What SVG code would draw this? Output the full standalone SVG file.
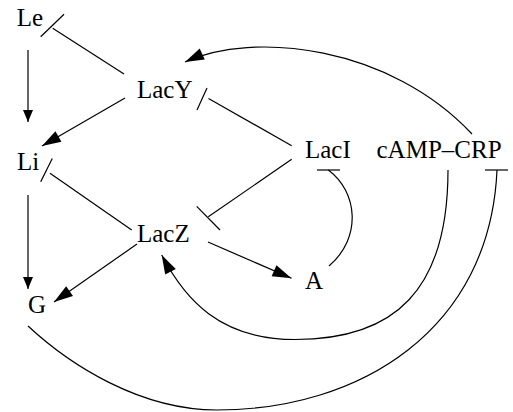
<svg xmlns="http://www.w3.org/2000/svg" width="513" height="412" viewBox="0 0 513 412">
<style>
  .lbl { font-family: "Liberation Serif", "Times New Roman", serif; font-size: 25px; fill: #000; }
  .e { fill: none; stroke: #000; stroke-width: 1.2; }
  .arr { marker-end: url(#ah); }
  .arrs { marker-end: url(#ahs); }
</style>
<defs>
  <marker id="ah" markerUnits="userSpaceOnUse" markerWidth="19" markerHeight="12" refX="19" refY="6" orient="auto" overflow="visible">
    <path d="M0,0 L19,6 L0,12 z" fill="#000"/>
  </marker>
  <marker id="ahs" markerUnits="userSpaceOnUse" markerWidth="12" markerHeight="10" refX="12" refY="5" orient="auto" overflow="visible">
    <path d="M0,0 L12,5 L0,10 z" fill="#000"/>
  </marker>
</defs>
<rect width="513" height="412" fill="#fff"/>
<g id="connectors">
  <g id="Le-Li"><line class="e arrs" x1="28" y1="50" x2="28" y2="122"/></g>
  <g id="Li-G"><line class="e arrs" x1="28" y1="195" x2="28" y2="289"/></g>
  <g id="LacY-Li"><line class="e arr" x1="125" y1="98" x2="42" y2="146"/></g>
  <g id="LacZ-G"><line class="e arr" x1="137" y1="244" x2="54" y2="302"/></g>
  <g id="LacZ-A"><line class="e arr" x1="208" y1="242" x2="291.5" y2="278.3"/></g>
  <g id="LacY-Le">
    <line class="e" x1="124" y1="74" x2="52.7" y2="28.3"/>
    <line class="e" x1="40.7" y1="36.7" x2="64" y2="14.3"/>
  </g>
  <g id="LacI-LacY">
    <line class="e" x1="291.7" y1="145.7" x2="208.5" y2="98.5"/>
    <line class="e" x1="197" y1="110" x2="207" y2="88"/>
  </g>
  <g id="LacZ-Li">
    <line class="e" x1="131.7" y1="230" x2="50" y2="173.3"/>
    <line class="e" x1="40.7" y1="181.7" x2="52.3" y2="158.5"/>
  </g>
  <g id="LacI-LacZ">
    <line class="e" x1="291.7" y1="159.3" x2="208.3" y2="216.7"/>
    <line class="e" x1="196.7" y1="206.3" x2="220" y2="230"/>
  </g>
  <g id="A-LacI">
    <path class="e" d="M329,266 C362,238 358,192 328.3,170"/>
    <line class="e" x1="317" y1="170" x2="340" y2="170"/>
  </g>
  <g id="cAMP-CRP-LacY"><path class="e arr" d="M472,134 C390,46 253,30.5 185,62"/></g>
  <g id="cAMP-CRP-LacZ"><path class="e arr" d="M448,170 C448,290 395,339.5 295,339.5 C220,339.5 185,299.5 161.7,255"/></g>
  <g id="G-cAMP-CRP">
    <path class="e" d="M28,326 C70,365 140,410 217,410 C360,410 490,330 497,170"/>
    <line class="e" x1="485" y1="170" x2="508" y2="170"/>
  </g>
</g>
<g id="Le"><text class="lbl" x="16.7" y="26">Le</text></g>
<g id="LacY"><text class="lbl" x="137" y="98">LacY</text></g>
<g id="Li"><text class="lbl" x="17" y="170">Li</text></g>
<g id="LacZ"><text class="lbl" x="137" y="242">LacZ</text></g>
<g id="G"><text class="lbl" x="28" y="313">G</text></g>
<g id="A"><text class="lbl" x="305" y="289">A</text></g>
<g id="LacI"><text class="lbl" x="305" y="158">LacI</text></g>
<g id="cAMP-CRP"><text class="lbl" x="376.5" y="158">cAMP–CRP</text></g>
</svg>
